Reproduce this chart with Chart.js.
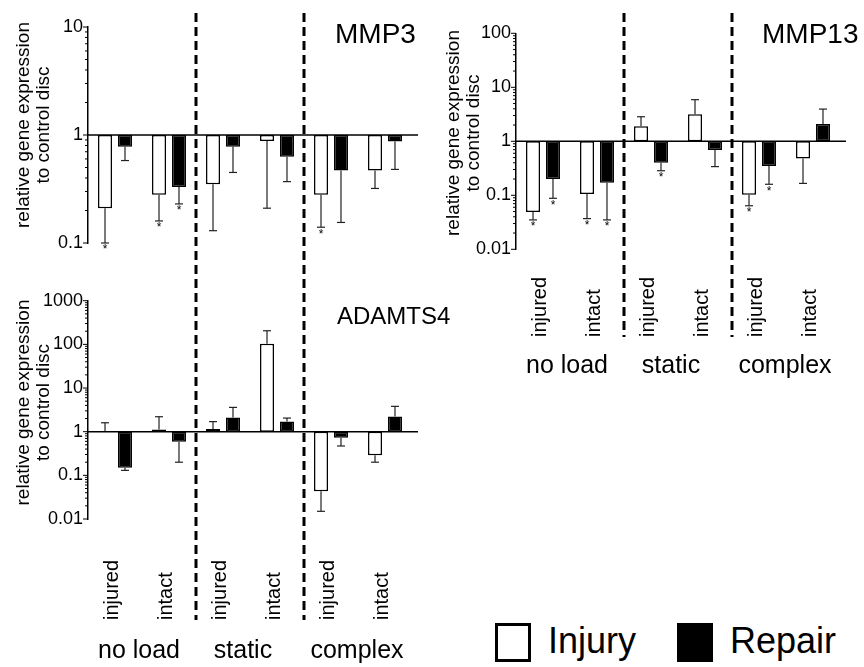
<!DOCTYPE html>
<html>
<head>
<meta charset="utf-8">
<script src="https://cdn.jsdelivr.net/npm/chart.js@4.4.1/dist/chart.umd.min.js"></script>
<style>
  body { margin: 0; background: #fff; width: 864px; height: 667px; position: relative; overflow: hidden; font-family: 'Liberation Sans', Arial, Helvetica, sans-serif; }
  canvas { position: absolute; }
  .box { position: absolute; box-sizing: border-box; width: 36px; height: 39px; }
  .lab { position: absolute; font-size: 36px; line-height: 36px; color: #000; white-space: nowrap; }
</style>
</head>
<body>
<canvas id="mmp3" width="430" height="270" style="left:0;top:0"></canvas>
<canvas id="adamts4" width="470" height="397" style="left:0;top:270px"></canvas>
<canvas id="mmp13" width="434" height="400" style="left:430px;top:0"></canvas>

<div class="box" style="left:495px;top:623px;background:#fff;border:3px solid #000"></div>
<div class="lab" style="left:548px;top:623px">Injury</div>
<div class="box" style="left:677px;top:623px;background:#000"></div>
<div class="lab" style="left:730px;top:623px">Repair</div>

<script>
const categories = ['injured', 'intact', 'injured', 'intact', 'injured', 'intact'];
const loadGroups = ['no load', 'static', 'complex'];
const yTitle = ['relative gene expression', 'to control disc'];

// MMP3
const mmp3Injury = [0.21, 0.28, 0.35, 0.88, 0.28, 0.47];
const mmp3Repair = [0.78, 0.33, 0.78, 0.63, 0.47, 0.87];
const mmp3InjuryErr = [0.1, 0.16, 0.13, 0.21, 0.14, 0.32];
const mmp3RepairErr = [0.58, 0.23, 0.45, 0.37, 0.155, 0.48];
const mmp3InjurySig = [1, 1, 0, 0, 1, 0];
const mmp3RepairSig = [0, 1, 0, 0, 0, 0];

// MMP13
const mmp13Injury = [0.049, 0.106, 1.9, 3.16, 0.102, 0.48];
const mmp13Repair = [0.2, 0.17, 0.4, 0.69, 0.35, 2.1];
const mmp13InjuryErr = [0.035, 0.037, 2.85, 5.9, 0.064, 0.166];
const mmp13RepairErr = [0.088, 0.035, 0.285, 0.34, 0.16, 3.95];
const mmp13InjurySig = [1, 1, 0, 0, 1, 0];
const mmp13RepairSig = [1, 1, 1, 0, 1, 0];

// ADAMTS4
const adamts4Injury = [1.02, 1.12, 1.15, 103, 0.043, 0.29];
const adamts4Repair = [0.15, 0.59, 2.1, 1.72, 0.73, 2.24];
const adamts4InjuryErr = [1.6, 2.2, 1.7, 205, 0.015, 0.2];
const adamts4RepairErr = [0.13, 0.2, 3.6, 2.05, 0.47, 3.8];
const adamts4InjurySig = [0, 0, 0, 0, 0, 0];
const adamts4RepairSig = [0, 0, 0, 0, 0, 0];

const FONT = "'Liberation Sans', Arial, Helvetica, sans-serif";

const panels = {
  mmp3: { title: 'MMP3', titleSize: 28, titleX: 335, titleY: 43, min: 0.1, max: 10, axisX: 88, top: 27, bottom: 243,
    dashTop: 13, dashBottom: 270, yTitleY: 125, labelY: null,
    injury: mmp3Injury, repair: mmp3Repair, injuryErr: mmp3InjuryErr, repairErr: mmp3RepairErr, injurySig: mmp3InjurySig, repairSig: mmp3RepairSig },
  adamts4: { title: 'ADAMTS4', titleSize: 24, titleX: 337, titleY: 54, min: 0.01, max: 1000, axisX: 88, top: 30.7, bottom: 249,
    dashTop: -5, dashBottom: 350, yTitleY: 132.5, labelY: 350, groupY: 381.5,
    injury: adamts4Injury, repair: adamts4Repair, injuryErr: adamts4InjuryErr, repairErr: adamts4RepairErr, injurySig: adamts4InjurySig, repairSig: adamts4RepairSig },
  mmp13: { title: 'MMP13', titleSize: 28, titleX: 332, titleY: 43, min: 0.01, max: 100, axisX: 86, top: 33.3, bottom: 249.3,
    dashTop: 13, dashBottom: 337, yTitleY: 133, labelY: 337, groupY: 366,
    injury: mmp13Injury, repair: mmp13Repair, injuryErr: mmp13InjuryErr, repairErr: mmp13RepairErr, injurySig: mmp13InjurySig, repairSig: mmp13RepairSig }
};

function decadeLabel(v) {
  const e = Math.log10(v);
  if (Math.abs(e - Math.round(e)) > 1e-6) return '';
  const n = Math.round(e);
  return n < 0 ? Math.pow(10, n).toFixed(-n) : String(Math.pow(10, n));
}

function seg(ctx, x1, y1, x2, y2) {
  ctx.beginPath(); ctx.moveTo(x1, y1); ctx.lineTo(x2, y2); ctx.stroke();
}

// axis ticks, baseline, error bars, separators and text labels
const figurePlugin = {
  id: 'figure',
  afterDatasetsDraw(chart) {
    const p = panels[chart.canvas.id];
    const { ctx, chartArea: a, scales: { x, y } } = chart;
    ctx.save();
    ctx.strokeStyle = '#000';
    ctx.fillStyle = '#000';

    ctx.lineWidth = 1;
    const lo = Math.round(Math.log10(p.min)), hi = Math.round(Math.log10(p.max));
    for (let d = lo; d <= hi; d++) {
      for (let k = 1; k <= 9; k++) {
        if (d === hi && k > 1) break;
        const py = y.getPixelForValue(k * Math.pow(10, d));
        seg(ctx, a.left - (k === 1 ? 5 : 3), py, a.left, py);
      }
    }

    const base = y.getPixelForValue(1);
    ctx.lineWidth = 1.5;
    seg(ctx, a.left, base, a.right + 6, base);

    ctx.lineWidth = 1.2;
    ctx.strokeStyle = '#222';
    ctx.font = '12px ' + FONT;
    ctx.textAlign = 'center';
    ctx.textBaseline = 'top';
    [[p.injury, p.injuryErr, p.injurySig], [p.repair, p.repairErr, p.repairSig]].forEach(([vals, errs, sig], di) => {
      const meta = chart.getDatasetMeta(di);
      vals.forEach((v, i) => {
        const bx = meta.data[i].x;
        const yb = y.getPixelForValue(v), ye = y.getPixelForValue(errs[i]);
        seg(ctx, bx, yb, bx, ye);
        seg(ctx, bx - 4, ye, bx + 4, ye);
        if (sig[i]) ctx.fillText('*', bx, ye + 1);
      });
    });

    ctx.strokeStyle = '#000';
    ctx.lineWidth = 3;
    ctx.setLineDash([9, 5]);
    [[1, 2], [3, 4]].forEach(([i, j]) => {
      const sx = (x.getPixelForValue(i) + x.getPixelForValue(j)) / 2;
      seg(ctx, sx, p.dashTop, sx, p.dashBottom);
    });
    ctx.setLineDash([]);

    ctx.textBaseline = 'alphabetic';
    ctx.textAlign = 'left';
    ctx.font = p.titleSize + 'px ' + FONT;
    ctx.fillText(p.title, p.titleX, p.titleY);

    ctx.font = '19px ' + FONT;
    ctx.textAlign = 'center';
    ctx.textBaseline = 'middle';
    yTitle.forEach((t, i) => {
      ctx.save();
      ctx.translate(24 + i * 20, p.yTitleY);
      ctx.rotate(-Math.PI / 2);
      ctx.fillText(t, 0, 0);
      ctx.restore();
    });

    if (p.labelY !== null) {
      ctx.font = '20px ' + FONT;
      ctx.textAlign = 'left';
      categories.forEach((c, i) => {
        ctx.save();
        ctx.translate(x.getPixelForValue(i) - 3, p.labelY);
        ctx.rotate(-Math.PI / 2);
        ctx.fillText(c, 0, 0);
        ctx.restore();
      });
      const groupShift = [-3, -7, -1];
      ctx.font = '25px ' + FONT;
      ctx.textAlign = 'center';
      loadGroups.forEach((g, i) => {
        const gx = (x.getPixelForValue(2 * i) + x.getPixelForValue(2 * i + 1)) / 2 + groupShift[i];
        ctx.fillText(g, gx, p.groupY);
      });
    }
    ctx.restore();
  }
};

Object.keys(panels).forEach(id => {
  const p = panels[id];
  const canvas = document.getElementById(id);
  new Chart(canvas, {
    type: 'bar',
    data: {
      labels: categories,
      datasets: [
        { label: 'Injury', data: p.injury.map(v => [1, v]), backgroundColor: '#fff', borderColor: '#000', borderWidth: 1.5, borderSkipped: false, categoryPercentage: 0.74, barPercentage: 0.7 },
        { label: 'Repair', data: p.repair.map(v => [1, v]), backgroundColor: '#000', borderColor: '#000', borderWidth: 1.5, borderSkipped: false, categoryPercentage: 0.74, barPercentage: 0.7 }
      ]
    },
    options: {
      responsive: false,
      animation: false,
      layout: { padding: { left: 0, top: p.top, right: canvas.width - p.axisX - 324, bottom: canvas.height - p.bottom } },
      plugins: { legend: { display: false }, tooltip: { enabled: false } },
      scales: {
        x: { display: false },
        y: {
          type: 'logarithmic', min: p.min, max: p.max,
          grid: { display: false, drawTicks: false },
          border: { display: true, color: '#000', width: 1.5 },
          ticks: { autoSkip: false, padding: 5, color: '#000', font: { size: 18, family: FONT }, callback: v => decadeLabel(v) },
          afterFit: s => { s.width = p.axisX; }
        }
      }
    },
    plugins: [figurePlugin]
  });
});
</script>
</body>
</html>
